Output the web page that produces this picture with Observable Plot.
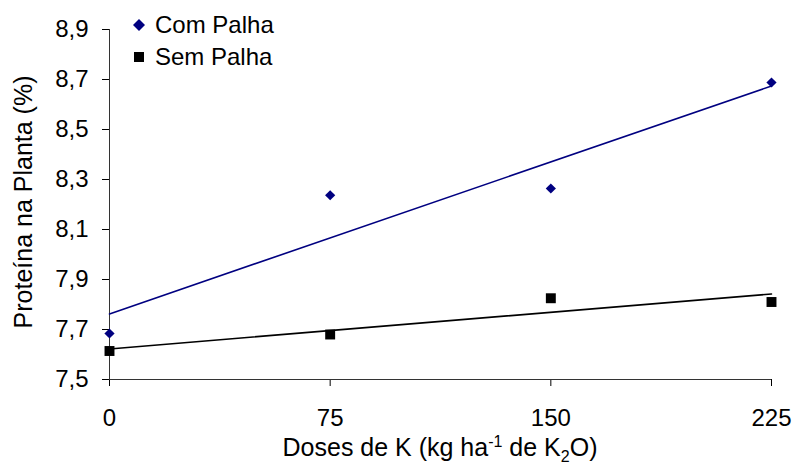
<!DOCTYPE html>
<html>
<head>
<meta charset="utf-8">
<script src="https://cdn.jsdelivr.net/npm/d3@7"></script>
<script src="https://cdn.jsdelivr.net/npm/@observablehq/plot@0.6"></script>
<style>
  html, body { margin: 0; padding: 0; background: #fff; }
  #wrap { position: relative; width: 795px; height: 467px; font-family: "Liberation Sans", Arial, sans-serif; }
  #wrap svg text { font-family: "Liberation Sans", Arial, sans-serif; font-size: 24px; fill: #000; }
  .leg { position: absolute; left: 131px; font-size: 24px; line-height: 24px; display: flex; align-items: center; white-space: nowrap; }
  .leg svg { width: 16px; height: 16px; margin-right: 8px; }
  #xtitle { position: absolute; left: 109px; width: 662px; top: 435px; text-align: center; font-size: 25px; line-height: 25px; white-space: nowrap; }
  #xtitle sup, #xtitle sub { font-size: 16px; line-height: 0; }
  #ytitle { position: absolute; left: 23px; top: 202px; font-size: 25px; line-height: 25px; white-space: nowrap; transform: translate(-50%, -50%) rotate(-90deg); }
</style>
</head>
<body>
<div id="wrap">
  <div id="chart"></div>
  <div class="leg" style="top:13px"><svg viewBox="-8 -8 16 16"><path d="M0,-6L6,0L0,6L-6,0Z" fill="#000080"/></svg><span>Com Palha</span></div>
  <div class="leg" style="top:45px"><svg viewBox="-8 -8 16 16"><rect x="-5" y="-5" width="10" height="10" fill="#000"/></svg><span>Sem Palha</span></div>
  <div id="xtitle">Doses de K (kg ha<sup>-1</sup> de K<sub>2</sub>O)</div>
  <div id="ytitle">Proteína na Planta (%)</div>
</div>
<script>
const doses = [0, 75, 150, 225];
const comPalha = [7.684, 8.237, 8.264, 8.688];
const semPalha = [7.614, 7.680, 7.825, 7.810];
const seriesNames = ["Com Palha", "Sem Palha"];
const seriesColors = ["#000080", "#000000"];
const yTicks = [7.5, 7.7, 7.9, 8.1, 8.3, 8.5, 8.7, 8.9];

const data = [
  ...doses.map((d, i) => ({dose: d, value: comPalha[i], serie: seriesNames[0]})),
  ...doses.map((d, i) => ({dose: d, value: semPalha[i], serie: seriesNames[1]}))
];
const com = data.filter(d => d.serie === seriesNames[0]);
const sem = data.filter(d => d.serie === seriesNames[1]);

const fmt = d => d.toFixed(1).replace(".", ",");

const chart = Plot.plot({
  width: 795,
  height: 467,
  marginLeft: 109,
  marginRight: 24,
  marginTop: 29,
  marginBottom: 88,
  style: {fontFamily: "Liberation Sans, Arial, sans-serif", fontSize: "24px", background: "#fff", overflow: "visible"},
  x: {domain: [0, 225], ticks: doses, tickFormat: d => String(d), tickSize: 7, tickPadding: 22, label: null},
  y: {domain: [7.5, 8.9], ticks: yTicks, tickFormat: fmt, tickSize: 7, tickPadding: 14, label: null},
  marks: [
    Plot.ruleX([0], {stroke: "#333", strokeWidth: 1}),
    Plot.ruleY([7.5], {stroke: "#333", strokeWidth: 1}),
    Plot.linearRegressionY(com, {x: "dose", y: "value", stroke: seriesColors[0], strokeWidth: 1.6, ci: 0}),
    Plot.linearRegressionY(sem, {x: "dose", y: "value", stroke: seriesColors[1], strokeWidth: 1.6, ci: 0}),
    Plot.dot(com, {x: "dose", y: "value", symbol: "diamond2", r: 4.6, fill: seriesColors[0], stroke: "none"}),
    Plot.dot(sem, {x: "dose", y: "value", symbol: "square", r: 5.6, fill: seriesColors[1], stroke: "none"})
  ]
});
document.getElementById("chart").appendChild(chart);
</script>
</body>
</html>
